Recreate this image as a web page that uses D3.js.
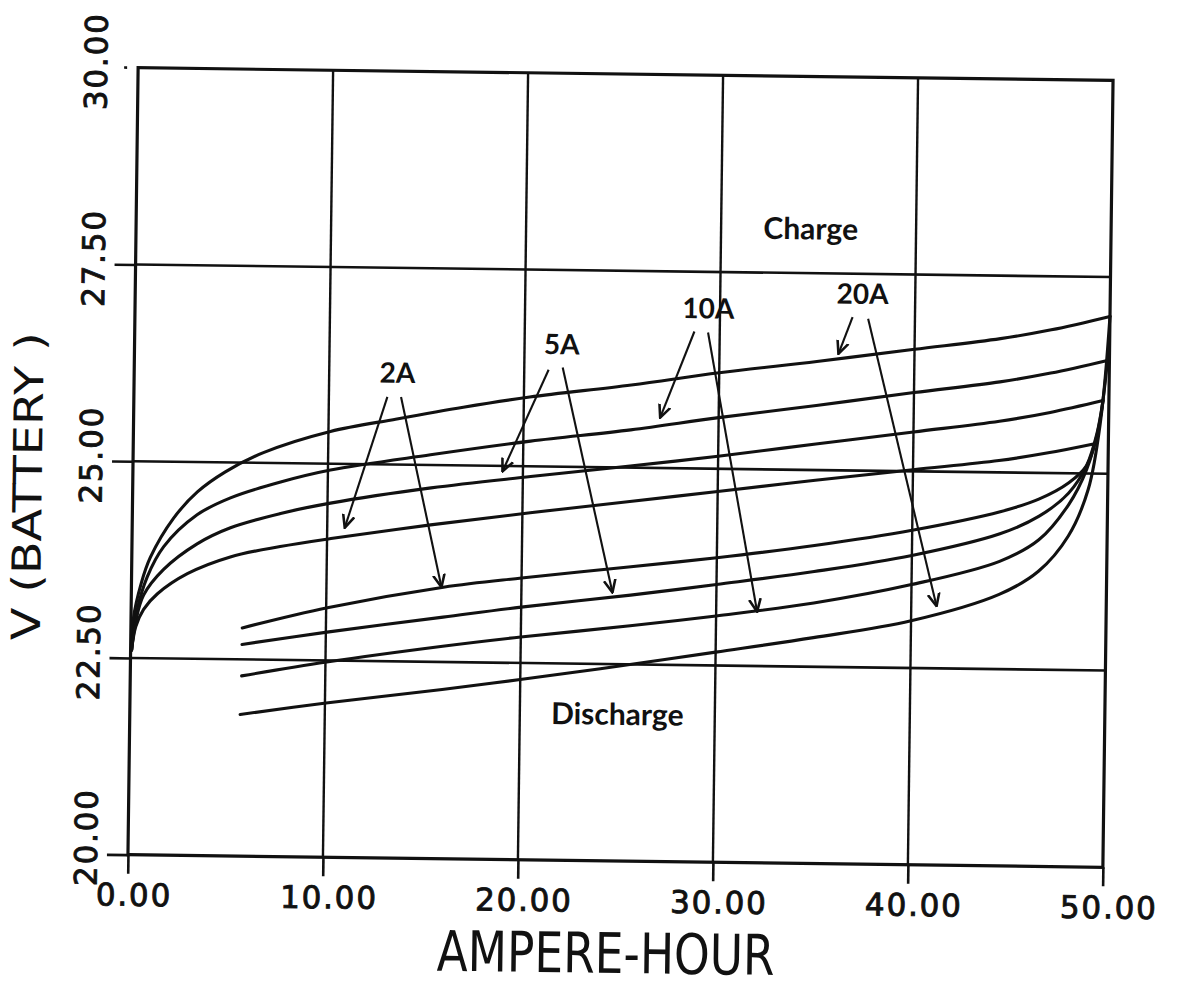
<!DOCTYPE html>
<html>
<head>
<meta charset="utf-8">
<script src="https://cdn.jsdelivr.net/npm/d3@7/dist/d3.min.js"></script>
<style>
  html, body { margin: 0; padding: 0; background: #fff; }
  svg { display: block; }
</style>
</head>
<body>
<svg id="chart" width="1178" height="988"></svg>
<script>
// ---------------- data ----------------
const xTicks = [0, 10, 20, 30, 40, 50];
const xTickLabels = ["0.00", "10.00", "20.00", "30.00", "40.00", "50.00"];
const yTicks = [20, 22.5, 25, 27.5, 30];
const yTickLabels = ["20.00", "22.50", "25.00", "27.50", "30.00"];

const charge20A = [[0.05,22.6],[0.12,23.0],[0.5,23.45],[0.95,23.78],[2.11,24.28],[3.32,24.62],[4.74,24.88],[6.68,25.13],[10.1,25.41],[13.5,25.58],[16.9,25.74],[20.3,25.88],[25.5,26.05],[30,26.22],[35,26.38],[40,26.55],[44.4,26.70],[47,26.82],[50,27.0]];
const charge10A = [[0.05,22.6],[0.3,23.1],[0.8,23.53],[1.63,23.92],[3.32,24.33],[5.02,24.55],[7.58,24.76],[10.13,24.92],[15.25,25.13],[20.37,25.32],[25.5,25.48],[30,25.65],[35,25.82],[40,26.0],[44.4,26.15],[47,26.27],[49.9,26.44]];
const charge5A  = [[0.05,22.6],[0.25,22.97],[0.63,23.3],[1.64,23.63],[3.34,23.96],[5.04,24.17],[7.6,24.36],[10.15,24.50],[15.3,24.71],[20.4,24.87],[25.5,25.02],[30,25.16],[35,25.33],[40,25.5],[44.4,25.65],[47,25.77],[49.7,25.93]];
const charge2A  = [[0.05,22.6],[0.25,22.9],[0.64,23.12],[1.34,23.32],[2.86,23.58],[5.05,23.8],[7.6,23.94],[10.2,24.05],[15.3,24.24],[20.4,24.41],[25.5,24.57],[30,24.71],[35,24.87],[40,25.02],[44.4,25.15],[47,25.26],[49.3,25.38]];

const discharge2A  = [[5.71,22.90],[10.06,23.17],[16.0,23.45],[20,23.58],[25.6,23.74],[30,23.87],[35,24.04],[40,24.25],[44.5,24.5],[46.5,24.67],[48,24.88],[48.9,25.1],[49.3,25.38]];
const discharge5A  = [[5.71,22.69],[10.06,22.86],[16,23.07],[20,23.21],[25.6,23.38],[30,23.53],[35,23.71],[40,23.93],[44.5,24.22],[46.5,24.45],[48,24.75],[48.9,25.1],[49.4,25.5],[49.7,25.93]];
const discharge10A = [[5.71,22.29],[10.06,22.48],[16,22.7],[20,22.83],[25.6,22.99],[30,23.13],[35,23.31],[40,23.56],[44.5,23.87],[46.5,24.15],[48,24.6],[48.9,25.05],[49.5,25.6],[49.9,26.44]];
const discharge20A = [[5.66,21.80],[10.06,21.96],[16,22.15],[20,22.29],[24.1,22.44],[30,22.67],[35,22.87],[40,23.1],[44.5,23.45],[46.5,23.75],[48,24.2],[49,24.8],[49.6,25.7],[50,27.0]];

const currentLabels = ["2A", "5A", "10A", "20A"];
const currentLabelPos = [[13.5,26.04],[21.9,26.43],[29.4,26.91],[37.3,27.12]];
const arrowsToCharge = [[[13.0,25.86],[10.9,24.19]], [[21.25,26.23],[18.95,24.93]], [[28.7,26.74],[27.0,25.64]], [[36.8,26.95],[36.1,26.48]]];
const arrowsToDischarge = [[[13.7,25.86],[15.9,23.45]], [[21.97,26.26],[24.67,23.41]], [[29.4,26.73],[32.1,23.19]], [[37.6,26.93],[41.3,23.29]]];

const regionLabels = ["Charge", "Discharge"];
const regionLabelPos = [[34.6,27.93],[25.0,21.73]];

const xTitle = "AMPERE-HOUR";
const yTitle = "V (BATTERY )";

// ---------------- drawing ----------------
const svg = d3.select("#chart");
svg.append("rect").attr("width", 1178).attr("height", 988).attr("fill", "#fff");

const margin = { left: 133, top: 74, right: 70, bottom: 127 };
const W = 1178, H = 988;
const plotW = W - margin.left - margin.right;   // 975
const plotH = H - margin.top - margin.bottom;   // 787

const x = d3.scaleLinear().domain([0, 50]).range([margin.left, margin.left + plotW]);
const y = d3.scaleLinear().domain([20, 30]).range([margin.top + plotH, margin.top]);

// the scanned original is tilted slightly clockwise
const g = svg.append("g").attr("transform", "rotate(0.74 620.5 467.5)");

const ink = "#111";

// grid lines
g.append("g").selectAll("line").data(xTicks.slice(1, -1)).join("line")
  .attr("x1", d => x(d)).attr("x2", d => x(d))
  .attr("y1", y(30)).attr("y2", y(20))
  .attr("stroke", ink).attr("stroke-width", 2.4);
g.append("g").selectAll("line").data(yTicks.slice(1, -1)).join("line")
  .attr("x1", x(0)).attr("x2", x(50))
  .attr("y1", d => y(d)).attr("y2", d => y(d))
  .attr("stroke", ink).attr("stroke-width", 2.6);

// axes (ticks)
const xAxis = d3.axisBottom(x).tickValues(xTicks).tickSize(19).tickPadding(10)
  .tickFormat((d, i) => xTickLabels[i]);
const gx = g.append("g").attr("transform", `translate(0,${y(20)})`).call(xAxis);
gx.select(".domain").remove();
gx.selectAll(".tick line").attr("stroke", ink).attr("stroke-width", 2.6);
gx.selectAll(".tick text")
  .attr("font-family", "'DejaVu Sans', sans-serif").attr("font-size", 31)
  .attr("letter-spacing", 1.8)
  .attr("fill", ink).attr("stroke", ink).attr("stroke-width", 0.9)
  .attr("dx", 6).attr("dy", "0.71em");

const yAxis = d3.axisLeft(y).tickValues(yTicks.filter(d => d < 30)).tickSize(21).tickFormat("");
const gy = g.append("g").attr("transform", `translate(${x(0)},0)`).call(yAxis);
gy.select(".domain").remove();
gy.selectAll(".tick line").attr("stroke", ink).attr("stroke-width", 2.6);
// small mark at 30
g.append("line").attr("x1", x(0) - 14).attr("x2", x(0) - 11)
  .attr("y1", y(30)).attr("y2", y(30)).attr("stroke", ink).attr("stroke-width", 2.6);

// y tick labels (rotated)
g.append("g").selectAll("text").data(yTicks).join("text")
  .attr("transform", (d, i) => `translate(${x(0) - 31},${y(d) - (d === 20 ? 17 : 6)}) rotate(-90)`)
  .attr("text-anchor", "middle")
  .attr("font-family", "'DejaVu Sans', sans-serif").attr("font-size", 31)
  .attr("letter-spacing", 1.8)
  .attr("fill", ink).attr("stroke", ink).attr("stroke-width", 0.9)
  .text((d, i) => yTickLabels[i]);

// frame
g.append("rect").attr("x", x(0)).attr("y", y(30))
  .attr("width", x(50) - x(0)).attr("height", y(20) - y(30))
  .attr("fill", "none").attr("stroke", ink).attr("stroke-width", 3.2);

// curves
const line = d3.line().x(d => x(d[0])).y(d => y(d[1])).curve(d3.curveCatmullRom.alpha(0.5));
const allSeries = [charge20A, charge10A, charge5A, charge2A, discharge2A, discharge5A, discharge10A, discharge20A];
g.append("g").selectAll("path").data(allSeries).join("path")
  .attr("d", line).attr("fill", "none").attr("stroke", ink)
  .attr("stroke-width", 3.1).attr("stroke-linejoin", "round").attr("stroke-linecap", "round");

// arrow marker
const defs = svg.append("defs");
defs.append("marker").attr("id", "ah")
  .attr("viewBox", "0 -6 12 12").attr("refX", 11).attr("refY", 0)
  .attr("markerUnits", "userSpaceOnUse").attr("markerWidth", 14).attr("markerHeight", 14)
  .attr("orient", "auto")
  .append("path").attr("d", "M0,-5 L11,0 L0,5")
  .attr("fill", "none").attr("stroke", ink).attr("stroke-width", 2.2).attr("stroke-linejoin", "miter");

const arrows = arrowsToCharge.concat(arrowsToDischarge);
g.append("g").selectAll("line").data(arrows).join("line")
  .attr("x1", d => x(d[0][0])).attr("y1", d => y(d[0][1]))
  .attr("x2", d => x(d[1][0])).attr("y2", d => y(d[1][1]))
  .attr("stroke", ink).attr("stroke-width", 2.1).attr("marker-end", "url(#ah)");

// current labels
g.append("g").selectAll("text").data(currentLabels).join("text")
  .attr("x", (d, i) => x(currentLabelPos[i][0])).attr("y", (d, i) => y(currentLabelPos[i][1]))
  .attr("text-anchor", "middle")
  .attr("font-family", "Lato, 'Open Sans', sans-serif").attr("font-weight", 700).attr("font-size", 28)
  .attr("fill", ink).text(d => d);

// region labels
g.append("g").selectAll("text").data(regionLabels).join("text")
  .attr("x", (d, i) => x(regionLabelPos[i][0])).attr("y", (d, i) => y(regionLabelPos[i][1]))
  .attr("text-anchor", "middle")
  .attr("font-family", "Lato, 'Open Sans', sans-serif").attr("font-weight", 700).attr("font-size", 30)
  .attr("fill", ink).text(d => d);

// axis titles
g.append("text").attr("x", 612).attr("y", 973).attr("text-anchor", "middle")
  .attr("font-family", "'DejaVu Sans', sans-serif").attr("font-size", 56)
  .attr("textLength", 338).attr("lengthAdjust", "spacingAndGlyphs")
  .attr("fill", ink).text(xTitle);

g.append("text").attr("transform", "translate(42,494) rotate(-90)").attr("text-anchor", "middle")
  .attr("font-family", "'DejaVu Sans', sans-serif").attr("font-size", 40)
  .attr("textLength", 308).attr("lengthAdjust", "spacingAndGlyphs")
  .attr("fill", ink).text(yTitle);
</script>
</body>
</html>
